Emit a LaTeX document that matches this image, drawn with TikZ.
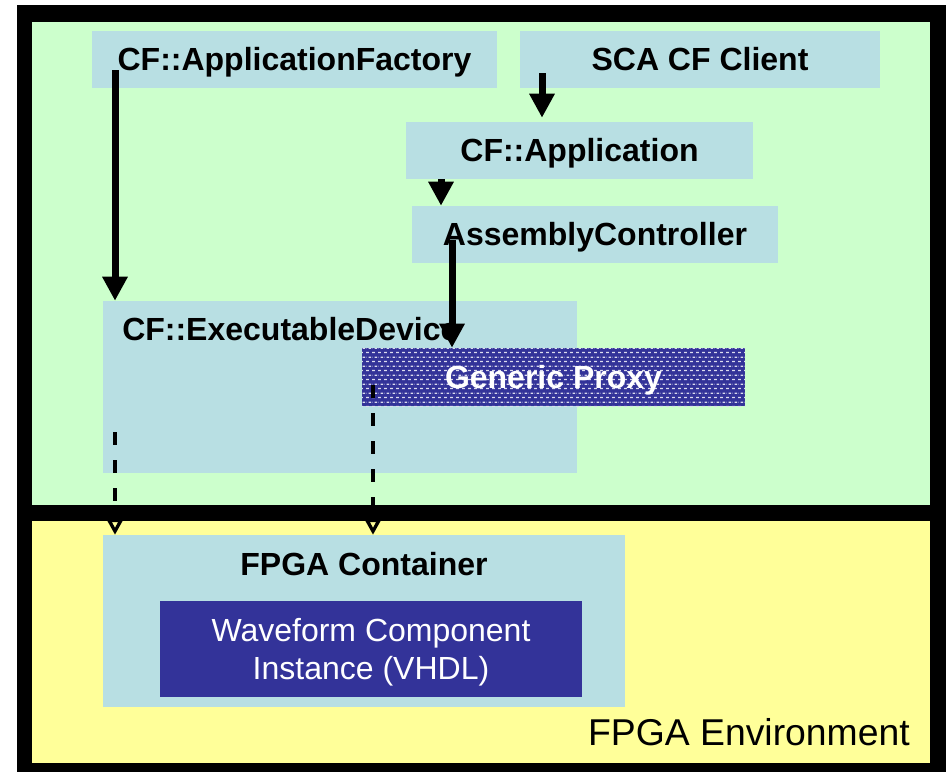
\documentclass[tikz,border=0pt]{standalone}
\usepackage{fontspec}
\setmainfont{Liberation Sans}
\usetikzlibrary{arrows.meta,fit,patterns}
\definecolor{envgreen}{HTML}{CCFFCC}
\definecolor{envyellow}{HTML}{FFFF99}
\definecolor{boxblue}{HTML}{B8DFE3}
\definecolor{darkblue}{HTML}{333399}
\definecolor{dotwhite}{HTML}{DCDCEE}
\pgfdeclarepatternformonly{proxybricks}{\pgfqpoint{0pt}{0pt}}{\pgfqpoint{4.5pt}{6.5pt}}{\pgfqpoint{4.5pt}{6.5pt}}{%
  \pgfpathrectangle{\pgfqpoint{0pt}{0.7pt}}{\pgfqpoint{2.6pt}{1.0pt}}%
  \pgfpathrectangle{\pgfqpoint{2.25pt}{3.95pt}}{\pgfqpoint{2.25pt}{1.0pt}}%
  \pgfpathrectangle{\pgfqpoint{0pt}{3.95pt}}{\pgfqpoint{0.35pt}{1.0pt}}%
  \pgfusepath{fill}}
\begin{document}
\begin{tikzpicture}[x=0.75pt,y=-0.75pt,
  boldtext/.style={font=\bfseries\fontsize{24}{28}\selectfont},
  box/.style={fill=boxblue, inner sep=0pt},
  boxtext/.style={boldtext, inner sep=0pt, text height=17.2pt, text depth=0pt},
  region/.style={inner sep=0pt},
  solidarrow/.style={line width=5.25pt, -{Triangle[length=18pt,width=18pt]}},
  dasharrow/.style={line width=3pt, dash pattern=on 9.75pt off 11.25pt,
    -{Triangle[open,length=12pt,width=12.5pt,line width=2.5pt]}}]
\useasboundingbox (0,0) rectangle (946,772);
% frame
\fill[black] (17,5) rectangle (946,772);
\node[fit={(32,22) (930,505)}, region, fill=envgreen] (cfenv) {};
\node[fit={(32,521) (930,763)}, region, fill=envyellow] (fpgaenv) {};
% boxes
\node[fit={(92,31) (497,88)}, box, label={[boxtext]center:{CF::ApplicationFactory}}] (appf) {};
\node[fit={(520,31) (880,88)}, box, label={[boxtext]center:{SCA CF Client}}] (client) {};
\node[fit={(406,122) (753,179)}, box, label={[boxtext]center:{CF::Application}}] (app) {};
\node[fit={(412,206) (778,263)}, box, label={[boxtext]center:{AssemblyController}}] (asm) {};
\node[fit={(103,301) (577,473)}, box] (exec) {};
\node[boldtext, inner sep=0pt, anchor=base west] (execlabel) at (122,340) {CF::ExecutableDevice};
\node[fit={(362,348) (745,406)}, region, preaction={fill=darkblue},
  pattern=proxybricks, pattern color=dotwhite,
  label={[boxtext, text=white]center:{Generic Proxy}}] (proxy) {};
\node[fit={(103,535) (625,707)}, box] (cont) {};
\node[boldtext, inner sep=0pt, anchor=base] (contlabel) at (364,575) {FPGA Container};
\node[fit={(160,601) (582,697)}, region, fill=darkblue] (wave) {};
\node[font=\fontsize{24}{28.5}\selectfont, text=white, align=center, inner sep=0pt] (wavetext) at (371,652.5) {Waveform Component\\Instance (VHDL)};
\node[font=\fontsize{28}{32}\selectfont, inner sep=0pt, anchor=base east] (envlabel) at (910,745) {FPGA Environment};
% connectors
\coordinate (s1) at (115,70);
\draw[solidarrow] (s1) -- (s1 |- exec.north);
\coordinate (s2) at (542,73);
\draw[solidarrow, shorten >=3pt] (s2) -- (s2 |- app.north);
\coordinate (x3) at (441,0);
\draw[solidarrow] (x3 |- app.south) -- (x3 |- asm.north);
\coordinate (s4) at (452,240);
\draw[solidarrow] (s4) -- (s4 |- proxy.north);
\coordinate (d1) at (115,432);
\draw[dasharrow] (d1) -- (d1 |- cont.north);
\coordinate (d2) at (373,385);
\draw[dasharrow] (d2) -- (d2 |- cont.north);
\end{tikzpicture}
\end{document}
